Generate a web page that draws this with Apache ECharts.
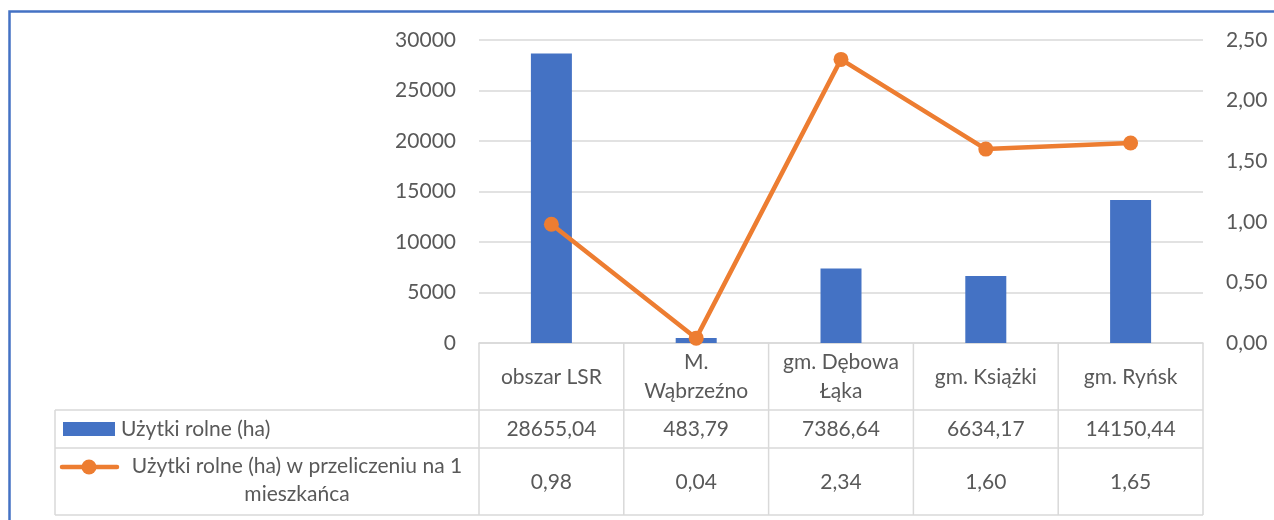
<!DOCTYPE html>
<html>
<head>
<meta charset="utf-8">
<script src="https://cdn.jsdelivr.net/npm/echarts@6/dist/echarts.min.js"></script>
<style>
  html, body { margin: 0; padding: 0; background: #fff; }
  #chart { width: 1274px; height: 520px; }
</style>
</head>
<body>
<div id="chart"></div>
<script>
// dane
const categories = ['obszar LSR', 'M. Wąbrzeźno', 'gm. Dębowa Łąka', 'gm. Książki', 'gm. Ryńsk']
const uzytkiRolne = [28655.04, 483.79, 7386.64, 6634.17, 14150.44]
const naMieszkanca = [0.98, 0.04, 2.34, 1.60, 1.65]
const seriesNames = ['Użytki rolne (ha)', 'Użytki rolne (ha) w przeliczeniu na 1 mieszkańca']
const leftTicks = [0, 5000, 10000, 15000, 20000, 25000, 30000]
const rightTicks = [0, 0.5, 1, 1.5, 2, 2.5]

const fmt = v => v.toFixed(2).replace('.', ',')

// zawijanie etykiet kategorii (max 11 znaków w linii)
const wrap = (s, max) => {
  const lines = []
  let cur = ''
  s.split(' ').forEach(w => {
    if (cur && (cur + ' ' + w).length > max) {
      lines.push(cur)
      cur = w
    } else {
      cur = cur ? cur + ' ' + w : w
    }
  })
  lines.push(cur)
  return lines.join('\n')
}

// układ (piksele)
const W = 1274, H = 520
const gridLeft = 479, gridRight = 1203, gridTop = 40, gridBottom = 343
const rowLines = [410, 448, 515]
const tableLeft = 55

const font = { fontFamily: 'Lato', fontSize: 21, color: '#595959' }
const gray = '#D9D9D9'

const myChart = echarts.init(document.getElementById('chart'))

// linie tabeli danych
const tableGraphics = () => {
  const els = []
  const band = (gridRight - gridLeft) / categories.length
  rowLines.forEach(y => {
    els.push({ type: 'line', shape: { x1: tableLeft, y1: y, x2: gridRight, y2: y }, style: { stroke: gray, lineWidth: 1.5 }, silent: true })
  })
  for (let i = 0; i <= categories.length; i++) {
    const x = gridLeft + i * band
    els.push({ type: 'line', shape: { x1: x, y1: gridBottom, x2: x, y2: rowLines[2] }, style: { stroke: gray, lineWidth: 1.5 }, silent: true })
  }
  els.push({ type: 'line', shape: { x1: tableLeft, y1: rowLines[0], x2: tableLeft, y2: rowLines[2] }, style: { stroke: gray, lineWidth: 1.5 }, silent: true })

  // klucze legendy w tabeli
  els.push({ type: 'rect', shape: { x: 63, y: 422, width: 52, height: 14 }, style: { fill: '#4472C4' }, silent: true })
  els.push({ type: 'text', x: 121, y: 429, style: { text: seriesNames[0], align: 'left', verticalAlign: 'middle', fill: font.color, fontFamily: font.fontFamily, fontSize: font.fontSize }, silent: true })
  els.push({ type: 'line', shape: { x1: 62, y1: 467, x2: 117, y2: 467 }, style: { stroke: '#ED7D31', lineWidth: 4.5, lineCap: 'round' }, silent: true })
  els.push({ type: 'circle', shape: { cx: 89, cy: 467, r: 7.5 }, style: { fill: '#ED7D31' }, silent: true })
  els.push({ type: 'text', x: 297, y: 480, style: { text: seriesNames[1].replace(' mieszkańca', '\nmieszkańca'), align: 'center', verticalAlign: 'middle', lineHeight: 28, fill: font.color, fontFamily: font.fontFamily, fontSize: font.fontSize }, silent: true })

  // ramka
  els.push({ type: 'rect', shape: { x: 9.5, y: 11.5, width: 1400, height: 700 }, style: { fill: 'none', stroke: '#4472C4', lineWidth: 2.5 }, silent: true, z: 100 })
  return els
}

const rowAxis = (data, margin) => ({
  type: 'category',
  data: data,
  position: 'bottom',
  axisLine: { show: false },
  axisTick: { show: false },
  splitLine: { show: false },
  axisLabel: Object.assign({ margin: margin, verticalAlign: 'middle', interval: 0 }, font)
})

const option = {
  animation: false,
  grid: { left: gridLeft, right: W - gridRight, top: gridTop, bottom: H - gridBottom, containLabel: false },
  xAxis: [
    {
      type: 'category',
      data: categories,
      axisLine: { show: true, lineStyle: { color: gray, width: 1.5 } },
      axisTick: { show: false },
      axisLabel: Object.assign({
        margin: 34, verticalAlign: 'middle', interval: 0, lineHeight: 29, align: 'center',
        formatter: v => wrap(v, 11)
      }, font)
    },
    rowAxis(uzytkiRolne.map(fmt), 86),
    rowAxis(naMieszkanca.map(fmt), 139)
  ],
  yAxis: [
    {
      type: 'value',
      min: leftTicks[0],
      max: leftTicks[leftTicks.length - 1],
      interval: leftTicks[1] - leftTicks[0],
      axisLine: { show: false },
      axisTick: { show: false },
      splitLine: { lineStyle: { color: gray, width: 1.5 } },
      axisLabel: Object.assign({ margin: 23, formatter: v => String(v) }, font)
    },
    {
      type: 'value',
      position: 'right',
      min: rightTicks[0],
      max: rightTicks[rightTicks.length - 1],
      interval: rightTicks[1] - rightTicks[0],
      axisLine: { show: false },
      axisTick: { show: false },
      splitLine: { show: false },
      axisLabel: Object.assign({ margin: 23, formatter: v => fmt(v) }, font)
    }
  ],
  series: [
    {
      name: seriesNames[0],
      type: 'bar',
      data: uzytkiRolne,
      barWidth: 41,
      itemStyle: { color: '#4472C4' }
    },
    {
      name: seriesNames[1],
      type: 'line',
      yAxisIndex: 1,
      data: naMieszkanca,
      symbol: 'circle',
      symbolSize: 15,
      lineStyle: { color: '#ED7D31', width: 4.5 },
      itemStyle: { color: '#ED7D31' }
    }
  ],
  graphic: tableGraphics()
}

myChart.setOption(option)
</script>
</body>
</html>
